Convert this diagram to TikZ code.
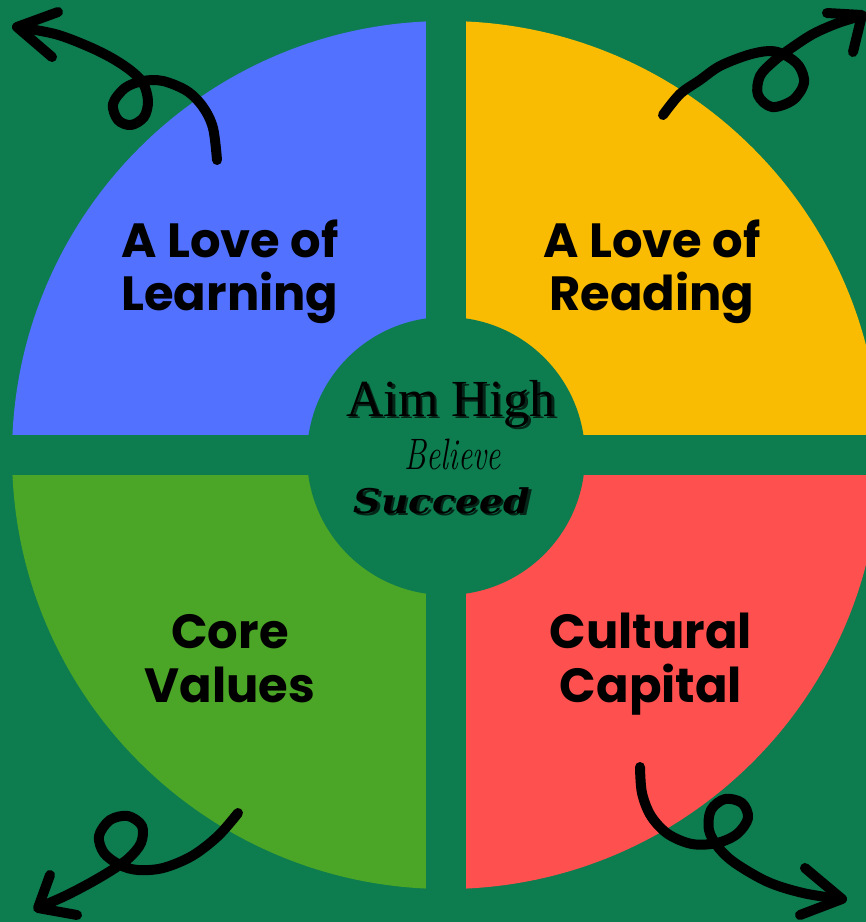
\documentclass[tikz,border=0pt]{standalone}
\usepackage{fontspec}
\usepackage{tikz}
\newfontfamily\labelfont{Poppins}
\newfontfamily\mottofont{Liberation Serif}
\newfontfamily\succeedfont{DejaVu Serif}[FakeStretch=1.12]
\definecolor{bggreen}{HTML}{0D7C4F}
\definecolor{quadblue}{HTML}{5271FF}
\definecolor{quadyellow}{HTML}{F9BC02}
\definecolor{quadgreen}{HTML}{4BA526}
\definecolor{quadred}{HTML}{FF5050}
\tikzset{
  doodle/.style={line width=10pt, line cap=round, line join=round},
  quadlabel/.style={font=\labelfont\bfseries\fontsize{48}{52}\selectfont, anchor=base, inner sep=0pt},
  motto/.style={anchor=base, inner sep=0pt},
  shadowtext/.style={motto, text=black!70!bggreen}
}

\begin{document}
\begin{tikzpicture}[x=1pt, y=-1pt]
			%%%%% START %%%%%
			\useasboundingbox (0, 0) rectangle (866, 922);
			\clip (0, 0) rectangle (866, 922);
			\fill[bggreen] (0, 0) rectangle (866, 922);
			
			% quarters of the big disc
			\foreach \col/\x/\y in {quadblue/0/0, quadyellow/446/0, quadgreen/0/455, quadred/446/455}{
				\begin{scope}
					\clip (\x, \y) rectangle ++(446, 467);
					\fill[\col] (446, 455) circle (434);
				\end{scope}
			}
			\fill[bggreen] (426, 0) rectangle (466, 922);
			\fill[bggreen] (0, 435) rectangle (866, 475);
			\fill[bggreen] (446, 456) circle (139);
			
			% quarter labels
			\node[quadlabel] (love1) at (230, 257) {A Love of};
			\node[quadlabel] (learn) at (230, 310) {Learning};
			\node[quadlabel] (love2) at (652, 257) {A Love of};
			\node[quadlabel] (read) at (652, 310) {Reading};
			\node[quadlabel] (core) at (230, 648) {Core};
			\node[quadlabel] (values) at (230, 702) {Values};
			\node[quadlabel] (cult) at (651, 648) {Cultural};
			\node[quadlabel] (capital) at (651, 702) {Capital};
			
			% centre motto
			\node[shadowtext, font=\mottofont\fontsize{52}{56}\selectfont] (aimshadow) at (453.5, 418.5) {Aim High};
			\node[motto, font=\mottofont\fontsize{52}{56}\selectfont] (aim) at (451, 416) {Aim High};
			\node[motto, font=\itshape\fontsize{44}{48}\selectfont] (believe) at (453, 469) {\scalebox{0.72}[1]{Believe}};
			\node[shadowtext, font=\succeedfont\bfseries\itshape\fontsize{34}{38}\selectfont] (succshadow) at (444.5, 515.5) {Succeed};
			\node[motto, font=\succeedfont\bfseries\itshape\fontsize{34}{38}\selectfont] (succeed) at (442, 513) {Succeed};
			
			% doodle arrows
			\draw[doodle] plot[smooth, tension=0.55] coordinates {(217,160) (213,128) (203,107) (187,91) (163,81) (143,81) (125,88) (113,104) (118,120) (131,125) (144,117) (148,101) (143,83) (130,70) (110,57) (85,45) (55,34) (18,27)};
			\draw[doodle] (58, 12) -- (17, 27) -- (52, 57);
			
			\draw[doodle] plot[smooth, tension=0.55] coordinates {(663,115) (680,94) (700,80) (720,66) (748,55) (770,51) (785,55) (799,66) (804,83) (793,100) (772,107) (758,95) (760,76) (774,61) (790,49) (813,34) (838,23) (861,16)};
			\draw[doodle] (827, 13) -- (862, 15) -- (853, 52);
			
			\draw[doodle] plot[smooth, tension=0.55] coordinates {(238,813) (218,836) (192,856) (163,868) (138,870) (120,865) (104,853) (99,836) (110,820) (128,816) (142,826) (141,843) (129,858) (112,870) (90,883) (65,896) (40,907)};
			\draw[doodle] (50, 875) -- (38, 908) -- (77, 915);
			
			\draw[doodle] plot[smooth, tension=0.55] coordinates {(640,767) (642,793) (651,816) (668,834) (692,844) (717,843) (737,834) (748,818) (742,803) (725,799) (711,810) (709,830) (718,847) (735,863) (768,882) (803,893) (840,899)};
			\draw[doodle] (805, 868) -- (842, 899) -- (800, 915);
			%%%%% END %%%%%
\end{tikzpicture}
\end{document}
